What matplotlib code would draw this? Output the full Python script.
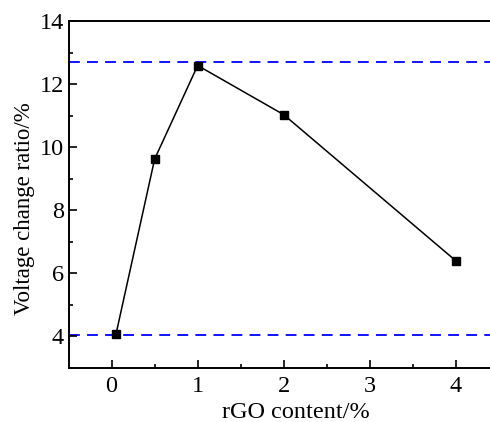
import matplotlib
matplotlib.use("Agg")
import matplotlib.pyplot as plt
from matplotlib.ticker import MultipleLocator

plt.rcParams['font.family'] = ['Liberation Serif', 'DejaVu Serif']

# rGO content (%) vs voltage change ratio (%)
rgo = [0.05, 0.5, 1, 2, 4]
ratio = [4.05, 9.62, 12.59, 11.03, 6.39]
ref_high = 12.70
ref_low = 4.02

fig = plt.figure(figsize=(4.9, 4.22), dpi=100)
ax = fig.add_axes([0.140, 0.129, 0.878, 0.821])

ax.axhline(ref_high, color='#0000ff', lw=1.3, ls=(0, (6, 4)), zorder=1)
ax.axhline(ref_low, color='#0000ff', lw=1.3, ls=(0, (6, 4)), zorder=1)
ax.plot(rgo, ratio, color='black', lw=1.1, marker='s', ms=5.5, mfc='black', mec='black', zorder=3)

ax.set_xlim(-0.5, 4.5)
ax.set_ylim(3, 14)
ax.xaxis.set_major_locator(MultipleLocator(1))
ax.xaxis.set_minor_locator(MultipleLocator(0.5))
ax.yaxis.set_major_locator(MultipleLocator(2))
ax.yaxis.set_minor_locator(MultipleLocator(1))
ax.tick_params(which='both', direction='in', top=False, right=False, width=1.2, labelsize=17.5)
ax.tick_params(which='major', length=6)
ax.tick_params(which='minor', length=3)
ax.tick_params(axis='x', pad=6)
for s in ax.spines.values():
    s.set_linewidth(1.4)

ax.set_xlabel('rGO content/%', fontsize=17.5)
ax.set_ylabel('Voltage change ratio/%', fontsize=16.5)
ax.xaxis.set_label_coords(0.529, -0.100)
ax.yaxis.set_label_coords(-0.077, 0.458)

fig.savefig('out.png', dpi=100)
